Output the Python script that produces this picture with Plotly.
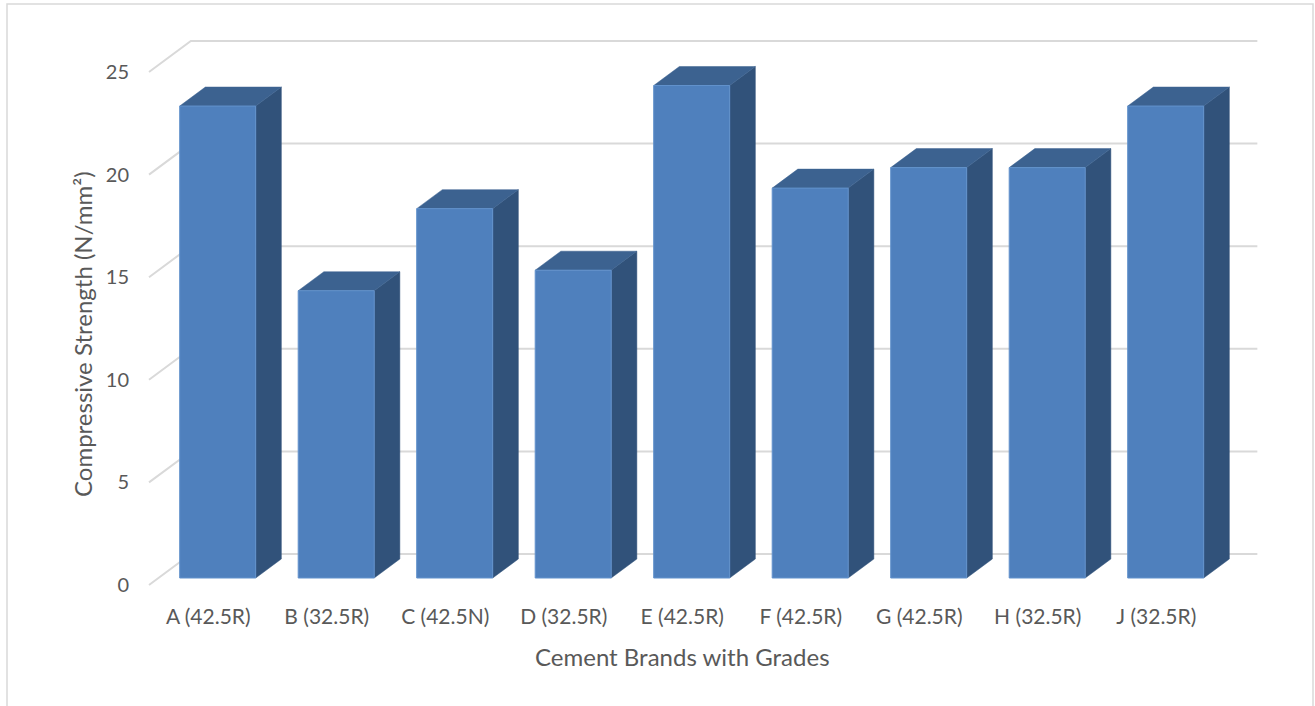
import plotly.graph_objects as go

# ---- data ----
categories = ["A (42.5R)", "B (32.5R)", "C (42.5N)", "D (32.5R)", "E (42.5R)",
              "F (42.5R)", "G (42.5R)", "H (32.5R)", "J (32.5R)"]
strength = [23, 14, 18, 15, 24, 19, 20, 20, 23]
y_ticks = [0, 5, 10, 15, 20, 25]
x_title = "Cement Brands with Grades"
y_title = "Compressive Strength (N/mm²)"

# ---- layout geometry (pixels) ----
W, H = 1315, 706
ML, MR, MT, MB = 140, 50, 35, 115
PW, PH = W - ML - MR, H - MT - MB
PX_CAT = 118.5      # pixels per category
PX_VAL = 20.52      # pixels per unit of strength
AX_LEFT_PX = 149    # pixel of category -0.5 in the front plane
ZERO_PX = 585       # pixel of value 0 in the front plane
SLANT = 1.35        # x shift per pixel of depth
D_BAR_FRONT, D_BAR_BACK, D_WALL = 7, 26, 31
HALF_W = 38 / PX_CAT

x_lo = -0.5 - (AX_LEFT_PX - ML) / PX_CAT
x_hi = x_lo + PW / PX_CAT
y_lo = -((H - MB) - ZERO_PX) / PX_VAL
y_hi = y_lo + PH / PX_VAL

n = len(categories)


def proj(c, v, d):
    return c + SLANT * d / PX_CAT, v + d / PX_VAL


def poly(points):
    xs, ys = [], []
    for c, v, d in points:
        x, y = proj(c, v, d)
        xs.append(x)
        ys.append(y)
    xs.append(xs[0])
    ys.append(ys[0])
    xs.append(None)
    ys.append(None)
    return xs, ys


fig = go.Figure()

# gridlines (side wall diagonal + back wall)
gx, gy = [], []
for v in y_ticks:
    for c, d in [(-0.5, 0), (-0.5, D_WALL), (n - 0.5, D_WALL)]:
        x, y = proj(c, v, d)
        gx.append(x)
        gy.append(y)
    gx.append(None)
    gy.append(None)
fig.add_trace(go.Scatter(x=gx, y=gy, mode="lines",
                         line=dict(color="#d9d9d9", width=2),
                         hoverinfo="skip", showlegend=False))

fx, fy, tx, ty, sx, sy = [], [], [], [], [], []
for i, v in enumerate(strength):
    l, r = i - HALF_W, i + HALF_W
    a, b = poly([(l, 0, D_BAR_FRONT), (r, 0, D_BAR_FRONT), (r, v, D_BAR_FRONT), (l, v, D_BAR_FRONT)])
    fx += a; fy += b
    a, b = poly([(l, v, D_BAR_FRONT), (r, v, D_BAR_FRONT), (r, v, D_BAR_BACK), (l, v, D_BAR_BACK)])
    tx += a; ty += b
    a, b = poly([(r, 0, D_BAR_FRONT), (r, 0, D_BAR_BACK), (r, v, D_BAR_BACK), (r, v, D_BAR_FRONT)])
    sx += a; sy += b

fig.add_trace(go.Scatter(x=sx, y=sy, mode="lines", fill="toself", fillcolor="#31527a",
                         line=dict(color="#31527a", width=0.5), hoverinfo="skip", showlegend=False))
fig.add_trace(go.Scatter(x=tx, y=ty, mode="lines", fill="toself", fillcolor="#3c6290",
                         line=dict(color="#3c6290", width=0.5), hoverinfo="skip", showlegend=False))
fig.add_trace(go.Scatter(x=fx, y=fy, mode="lines", fill="toself", fillcolor="#4f80bd",
                         line=dict(color="#6292cc", width=1), hoverinfo="skip", showlegend=False))

font_fam = "Lato, 'Open Sans', sans-serif"
fig.update_layout(
    width=W, height=H,
    margin=dict(l=ML, r=MR, t=MT, b=MB, pad=0),
    plot_bgcolor="white", paper_bgcolor="white",
    font=dict(family=font_fam, color="#595959", size=20),
    showlegend=False,
    xaxis=dict(range=[x_lo, x_hi], tickvals=list(range(n)), ticktext=categories,
               showgrid=False, zeroline=False, showline=False, ticks="",
               ticklabelstandoff=11, tickfont=dict(size=21, color="#595959")),
    yaxis=dict(range=[y_lo, y_hi], tickvals=y_ticks, ticktext=[str(t) for t in y_ticks],
               showgrid=False, zeroline=False, showline=False, ticks="",
               ticklabelstandoff=10, tickfont=dict(size=20, color="#595959")),
)

# axis titles
fig.add_annotation(text=x_title, xref="x", yref="paper", x=(n - 1) / 2,
                   y=-(656 - (H - MB)) / PH, showarrow=False, yanchor="middle",
                   font=dict(size=24, color="#595959"))
fig.add_annotation(text=y_title, xref="paper", yref="paper", x=-(ML - 82) / PW,
                   y=((H - MB) - 334) / PH, showarrow=False, textangle=-90,
                   xanchor="center", yanchor="middle",
                   font=dict(size=24, color="#595959"))

# chart area border
fig.add_shape(type="rect", xref="paper", yref="paper",
              x0=(7 - ML) / PW, x1=(1313 - ML) / PW,
              y0=((H - MB) - 720) / PH, y1=((H - MB) - 4) / PH,
              line=dict(color="#d9d9d9", width=1.5), fillcolor="rgba(0,0,0,0)", layer="below")

fig.write_html("out.html", config={"displayModeBar": False},
               post_script="document.body.style.margin='0';document.body.style.overflow='hidden';")
